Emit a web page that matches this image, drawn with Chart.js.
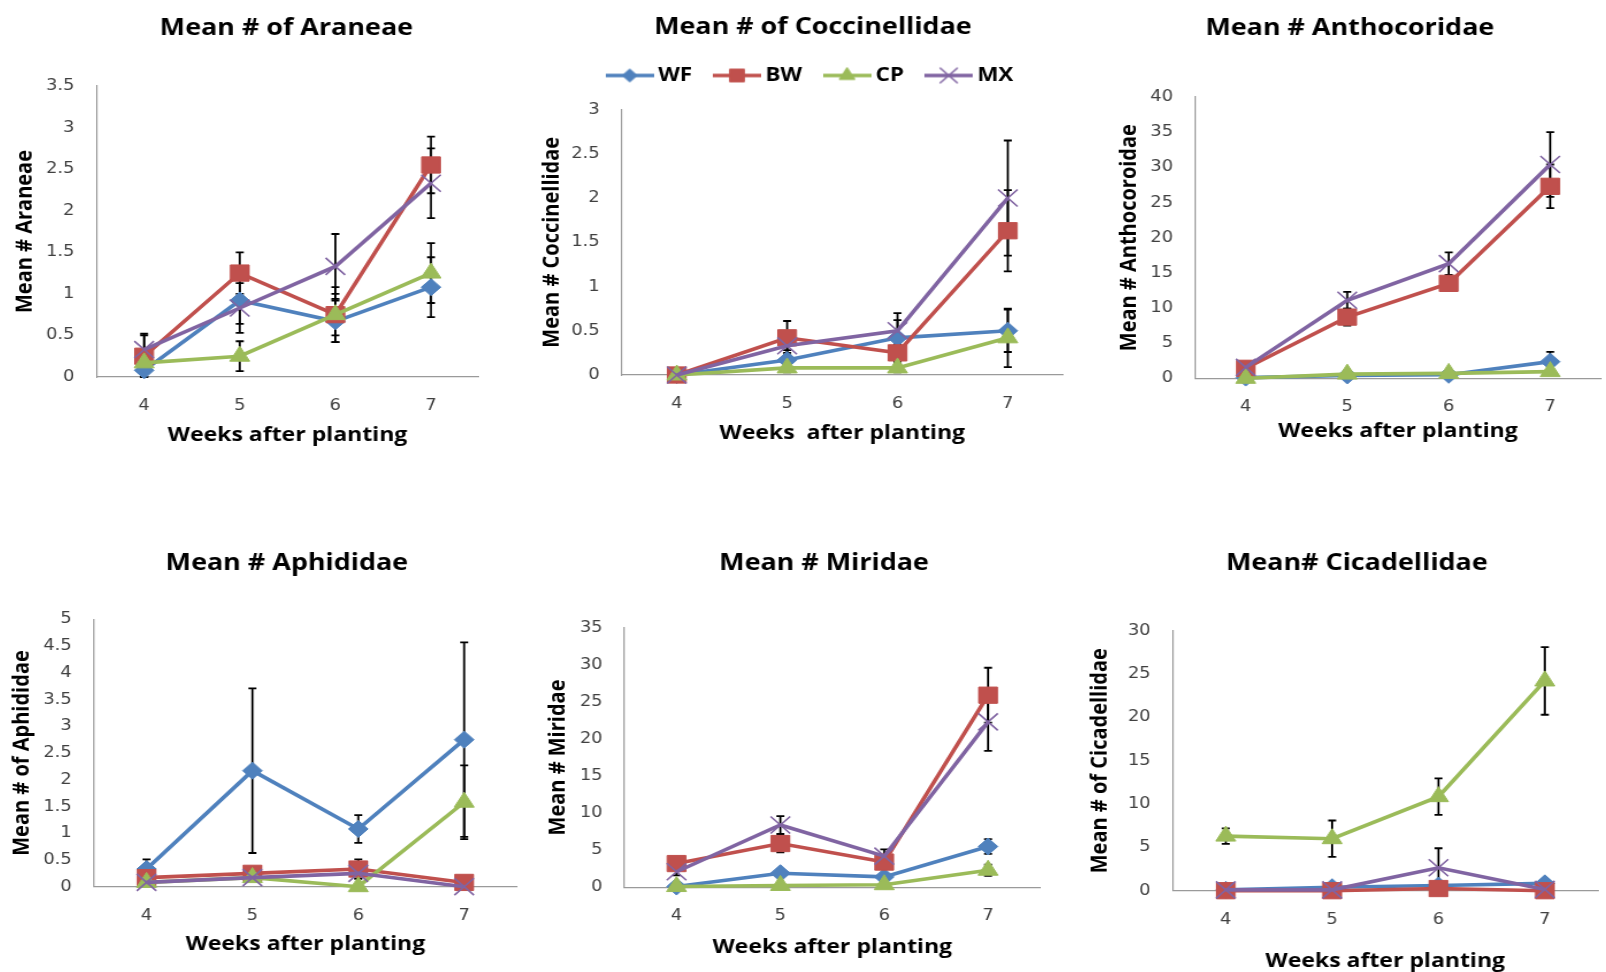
<!DOCTYPE html>
<html>
<head>
<meta charset="utf-8">
<script src="https://cdn.jsdelivr.net/npm/chart.js@4.4.1/dist/chart.umd.min.js"></script>
<style>
html, body { margin:0; padding:0; background:#ffffff; width:1606px; height:972px; overflow:hidden; position:relative; }
canvas { position:absolute; transform-origin:0 0; }
</style>
</head>
<body>
<script>
// ---------------- DATA ----------------
const weeks = ['4', '5', '6', '7'];
const seriesNames = ['WF', 'BW', 'CP', 'MX'];

const panelTitles = ['Mean # of Araneae', 'Mean # of Coccinellidae', 'Mean # Anthocoridae',
                     'Mean # Aphididae', 'Mean # Miridae', 'Mean# Cicadellidae'];
const yAxisTitles = ['Mean # Araneae', 'Mean # Coccinellidae', 'Mean # Anthocoroidae',
                     'Mean # of Aphididae', 'Mean # Miridae', 'Mean # of Cicadellidae'];
const xAxisTitles = ['Weeks after planting', 'Weeks  after planting', 'Weeks after planting',
                     'Weeks after planting', 'Weeks after planting', 'Weeks after planting'];
const yAxisMax  = [3.5, 3, 40, 5, 35, 30];
const yAxisStep = [0.5, 0.5, 5, 0.5, 5, 5];

// rows: WF, BW, CP, MX
const araneaeMeans  = [[0.08, 0.92, 0.67, 1.08], [0.25, 1.25, 0.75, 2.55], [0.17, 0.25, 0.75, 1.25], [0.33, 0.83, 1.33, 2.33]];
const araneaeErrors = [[0.10, 0.28, 0.25, 0.36], [0.25, 0.25, 0.33, 0.34], [0.10, 0.18, 0.25, 0.36], [0.19, 0.30, 0.39, 0.42]];

const coccinellidaeMeans  = [[0, 0.17, 0.42, 0.50], [0, 0.42, 0.25, 1.63], [0, 0.08, 0.08, 0.42], [0, 0.33, 0.50, 2.00]];
const coccinellidaeErrors = [[0, 0.11, 0.20, 0.24], [0, 0.19, 0.10, 0.46], [0, 0.05, 0.05, 0.33], [0, 0.08, 0.20, 0.65]];

const anthocoridaeMeans  = [[0.1, 0.4, 0.5, 2.37], [1.42, 8.7, 13.5, 27.3], [0, 0.6, 0.7, 0.95], [1.56, 11.1, 16.3, 30.4]];
const anthocoridaeErrors = [[0.05, 0.2, 0.2, 1.4], [0.4, 1.2, 1.0, 3.1], [0, 0.2, 0.2, 0.3], [0.4, 1.2, 1.6, 4.6]];

const aphididaeMeans  = [[0.33, 2.17, 1.08, 2.75], [0.17, 0.25, 0.33, 0.08], [0.08, 0.17, 0, 1.58], [0.08, 0.17, 0.25, 0]];
const aphididaeErrors = [[0.18, 1.54, 0.26, 1.82], [0.05, 0.05, 0.18, 0.05], [0.05, 0.05, 0, 0.69], [0.05, 0.05, 0.10, 0]];

const miridaeMeans  = [[0.1, 1.9, 1.4, 5.5], [3.2, 5.9, 3.4, 25.9], [0.1, 0.25, 0.35, 2.3], [2.1, 8.4, 4.2, 22.3]];
const miridaeErrors = [[0.1, 0.5, 0.4, 1.0], [0.5, 1.2, 0.8, 3.7], [0.05, 0.2, 0.2, 0.75], [0.5, 1.2, 0.9, 3.9]];

const cicadellidaeMeans  = [[0.1, 0.4, 0.6, 0.85], [0, 0, 0.25, 0], [6.3, 6.0, 10.85, 24.2], [0.1, 0.1, 2.65, 0.15]];
const cicadellidaeErrors = [[0.05, 0.1, 0.2, 0.2], [0, 0, 0.1, 0], [0.9, 2.1, 2.1, 3.9], [0.05, 0.05, 2.25, 0.1]];

const panelMeans  = [araneaeMeans, coccinellidaeMeans, anthocoridaeMeans, aphididaeMeans, miridaeMeans, cicadellidaeMeans];
const panelErrors = [araneaeErrors, coccinellidaeErrors, anthocoridaeErrors, aphididaeErrors, miridaeErrors, cicadellidaeErrors];

// ---------------- STYLE / LAYOUT ----------------
const SX = 1.15; // horizontal stretch of the original figure
const seriesColors = ['#4F81BD', '#C0504D', '#9BBB59', '#8064A2'];
const seriesPointStyles = ['rectRot', 'rect', 'triangle', 'crossRot'];
const seriesPointRadius = [8.5, 11.5, 10, 12];
const legendPointRadius = [6.5, 9, 8, 11];
const AXIS_COLOR = '#9a9a9a';
const TICK_COLOR = '#404040';
const LINE_W = 3.6;
const TITLE_FS = 23.4, TITLE_LH = TITLE_FS * 1.2;
const AX_FS = 20, AX_LH = AX_FS * 1.2;
const LEG_FS = 19.5, LEG_PAD = 24;

// page-pixel targets for each panel's plot area and texts
const layouts = [
  {L: 96.5,  R: 479,    T: 86,    B: 377,   TC: 286.7, TY: 28,   YT: 25,     XT: 435.5, top: 0},
  {L: 621.8, R: 1063.2, T: 109.5, B: 375,   TC: 813,   TY: 27.5, YT: 552,    XT: 433,   top: 0, legendY: 75.5},
  {L: 1195.3,R: 1616.7, T: 97,    B: 378.3, TC: 1350,  TY: 28,   YT: 1129.3, XT: 431,   top: 0},
  {L: 93.5,  R: 517,    T: 619.3, B: 886.7, TC: 286.8, TY: 563.5,YT: 21.7,   XT: 944.5, top: 480},
  {L: 624.8, R: 1040.2, T: 627.7, B: 887.3, TC: 824,   TY: 563.5,YT: 558,    XT: 947,   top: 480},
  {L: 1172.8,R: 1598.2, T: 630.7, B: 890.7, TC: 1357,  TY: 563.5,YT: 1100,   XT: 961,   top: 480}
];

const errorBarPlugin = {
  id: 'errorBars',
  beforeDatasetsDraw(chart) {
    const ctx = chart.ctx;
    const yS = chart.scales.y;
    const cap = 4 / SX;
    ctx.save();
    ctx.strokeStyle = '#000000';
    ctx.lineWidth = 1.8;
    chart.data.datasets.forEach((ds, di) => {
      const meta = chart.getDatasetMeta(di);
      (ds.errors || []).forEach((e, j) => {
        if (!e) return;
        const v = ds.data[j];
        const x = meta.data[j].x;
        const yt = yS.getPixelForValue(v + e);
        const yb = yS.getPixelForValue(Math.max(0, v - e));
        ctx.beginPath();
        ctx.moveTo(x, yt); ctx.lineTo(x, yb);
        ctx.moveTo(x - cap, yt); ctx.lineTo(x + cap, yt);
        ctx.moveTo(x - cap, yb); ctx.lineTo(x + cap, yb);
        ctx.stroke();
      });
    });
    ctx.restore();
  }
};

function legendImage(i) {
  const c = document.createElement('canvas');
  c.width = 42; c.height = 26;
  const ctx = c.getContext('2d');
  ctx.strokeStyle = seriesColors[i];
  ctx.lineWidth = LINE_W;
  ctx.beginPath(); ctx.moveTo(0, 13); ctx.lineTo(42, 13); ctx.stroke();
  ctx.fillStyle = seriesColors[i];
  ctx.lineWidth = i === 3 ? 1.5 : 1;
  Chart.helpers.drawPoint(ctx, {pointStyle: seriesPointStyles[i], radius: legendPointRadius[i], borderWidth: ctx.lineWidth, rotation: 0}, 21, 13);
  return c;
}

const tickFormat = v => String(+Number(v).toFixed(2));

function buildPanel(k) {
  const lay = layouts[k];
  let cx = lay.YT - (AX_LH / 2) * SX;
  let ytPad = 0;
  if (2 * lay.TC - cx < lay.R) {
    cx = 2 * lay.TC - lay.R;
    ytPad = (lay.YT - cx) / SX - AX_LH / 2;
  }
  const cwInt = Math.round(2 * (lay.TC - cx) / SX);
  const ywInt = (lay.L - cx) / SX;
  const swInt = Math.max(0, cwInt - ywInt - (lay.R - lay.L) / SX);
  const cy = lay.top;
  const chPage = Math.ceil(lay.XT + AX_LH / 2 - cy);
  const xtPadBottom = (cy + chPage) - (lay.XT + AX_LH / 2);
  const xh = cy + chPage - lay.B;
  const titlePadTop = lay.TY - cy - TITLE_LH / 2;
  let titlePadBottom, gapTop = 0;
  if (lay.legendY) {
    const LT = lay.legendY - LEG_PAD - LEG_FS / 2;
    titlePadBottom = Math.max(0, LT - (lay.TY + TITLE_LH / 2));
    gapTop = lay.T - (lay.TY + TITLE_LH / 2 + titlePadBottom + LEG_FS + LEG_PAD + 10);
  } else {
    titlePadBottom = lay.T - lay.TY - TITLE_LH / 2;
  }

  const canvas = document.createElement('canvas');
  canvas.width = cwInt;
  canvas.height = chPage;
  canvas.style.left = cx + 'px';
  canvas.style.top = cy + 'px';
  canvas.style.width = cwInt + 'px';
  canvas.style.height = chPage + 'px';
  canvas.style.transform = 'scaleX(' + SX + ')';
  document.body.appendChild(canvas);

  const tickFont = {family: 'DejaVu Sans', size: 15.5};
  const axTitleFont = {family: 'Open Sans', weight: 'bold', size: AX_FS, lineHeight: 1.2};

  const scales = {
    x: {
      type: 'category', position: 'bottom', offset: true,
      grid: {display: false, drawTicks: false},
      border: {display: true, color: AXIS_COLOR, width: 1.2},
      ticks: {color: TICK_COLOR, font: tickFont, padding: 19.5, maxRotation: 0, autoSkip: false},
      title: {display: true, text: xAxisTitles[k], color: '#000000', font: axTitleFont, padding: {top: 0, bottom: xtPadBottom}},
      afterFit: s => { s.height = xh; }
    },
    y: {
      type: 'linear', position: 'left', min: 0, max: yAxisMax[k],
      grid: {display: false, drawTicks: false},
      border: {display: true, color: AXIS_COLOR, width: 1.2},
      ticks: {stepSize: yAxisStep[k], color: TICK_COLOR, font: tickFont, padding: 22 / SX, callback: tickFormat},
      title: {display: true, text: yAxisTitles[k], color: '#000000', font: axTitleFont, padding: {top: ytPad, bottom: 0}},
      afterFit: s => { s.width = ywInt; }
    },
    yR: {
      type: 'linear', position: 'right', display: true,
      grid: {display: false, drawTicks: false}, border: {display: false}, ticks: {display: false},
      afterFit: s => { s.width = swInt; }
    }
  };
  if (lay.legendY) {
    scales.xT = {
      type: 'category', position: 'top', display: true,
      grid: {display: false, drawTicks: false}, border: {display: false}, ticks: {display: false},
      afterFit: s => { s.height = gapTop; }
    };
  }

  const datasets = seriesNames.map((name, i) => ({
    label: name,
    data: panelMeans[k][i],
    errors: panelErrors[k][i],
    xAxisID: 'x', yAxisID: 'y',
    borderColor: seriesColors[i],
    backgroundColor: seriesColors[i],
    borderWidth: LINE_W,
    pointStyle: seriesPointStyles[i],
    pointRadius: seriesPointRadius[i],
    pointHoverRadius: seriesPointRadius[i],
    pointBorderWidth: i === 3 ? 1.6 : 1,
    pointBorderColor: seriesColors[i],
    pointBackgroundColor: seriesColors[i],
    tension: 0,
    clip: false,
    order: 4 - i
  }));

  const legendImgs = seriesNames.map((n, i) => legendImage(i));

  new Chart(canvas, {
    type: 'line',
    data: {labels: weeks, datasets},
    options: {
      responsive: false,
      animation: false,
      devicePixelRatio: 1,
      layout: {padding: 0},
      events: [],
      scales,
      plugins: {
        title: {
          display: true, text: panelTitles[k], color: '#000000',
          font: {family: 'Open Sans', weight: 'bold', size: TITLE_FS, lineHeight: 1.2},
          padding: {top: titlePadTop, bottom: titlePadBottom}
        },
        legend: {
          display: !!lay.legendY,
          position: 'top',
          labels: {
            usePointStyle: true,
            pointStyleWidth: 30,
            padding: LEG_PAD,
            color: '#000000',
            font: {family: 'Open Sans', weight: 'bold', size: LEG_FS},
            sort: (a, b) => a.datasetIndex - b.datasetIndex,
            generateLabels: chart => Chart.defaults.plugins.legend.labels.generateLabels(chart)
              .map(l => Object.assign(l, {pointStyle: legendImgs[l.datasetIndex]}))
          }
        },
        tooltip: {enabled: false}
      }
    },
    plugins: [errorBarPlugin]
  });
}

Chart.defaults.font.family = 'Open Sans';
for (let k = 0; k < 6; k++) buildPanel(k);
</script>
</body>
</html>
